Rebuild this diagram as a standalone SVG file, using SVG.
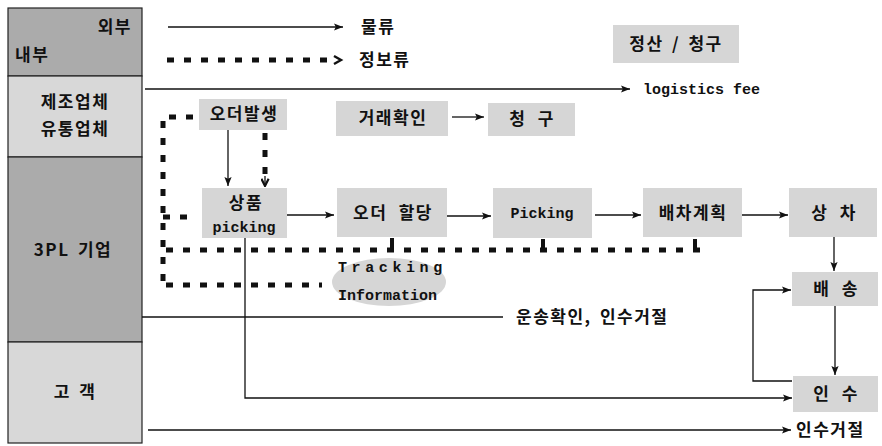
<svg xmlns="http://www.w3.org/2000/svg" width="882" height="446" viewBox="0 0 882 446">
<style>
.ko{font-family:"Noto Sans CJK KR","Noto Sans",sans-serif;font-weight:bold;font-size:17px;fill:#111;letter-spacing:1.5px;word-spacing:6px}
.en{font-family:"Liberation Mono",monospace;font-weight:bold;font-size:15px;fill:#111}
.dark{fill:#ababab;stroke:#222;stroke-width:1.2}
.light{fill:#d8d8d8;stroke:#222;stroke-width:1.2}
.box{fill:#d6d6d6}
.ln{fill:none;stroke:#111;stroke-width:1.3}
.dash{fill:none;stroke:#111;stroke-width:5;stroke-dasharray:7 10}
.tick{fill:none;stroke:#111;stroke-width:4}
</style>
<defs>
<marker id="ah" viewBox="0 0 10 10" refX="10" refY="5" markerWidth="9" markerHeight="9" markerUnits="userSpaceOnUse" orient="auto">
<path d="M0,1 L10,5 L0,9 L2,5 Z" fill="#111"/>
</marker>
<marker id="chev" viewBox="0 0 10 10" refX="9" refY="5" markerWidth="9" markerHeight="9" markerUnits="userSpaceOnUse" orient="auto">
<path d="M1,1 L9,5 L1,9" fill="none" stroke="#111" stroke-width="2.4"/>
</marker>
</defs>

<g id="lane-top">
<rect class="dark" x="8" y="8" width="134" height="68"/>
<text class="ko" x="132" y="33" text-anchor="end">외부</text>
<text class="ko" x="15" y="61">내부</text>
</g>
<g id="lane-maker">
<rect class="light" x="8" y="76" width="134" height="81"/>
<text class="ko" x="75" y="108" text-anchor="middle">제조업체</text>
<text class="ko" x="75" y="135" text-anchor="middle">유통업체</text>
</g>
<g id="lane-3pl">
<rect class="dark" x="8" y="157" width="134" height="185"/>
<text class="ko" x="73" y="256" text-anchor="middle" style="word-spacing:3px">3PL 기업</text>
</g>
<g id="lane-customer">
<rect class="light" x="8" y="342" width="134" height="101"/>
<text class="ko" x="75" y="398" text-anchor="middle" style="word-spacing:3px">고 객</text>
</g>

<g id="legend">
<text class="ko" x="361" y="33">물류</text>
<text class="ko" x="359" y="66">정보류</text>
</g>

<g id="n-settle">
<rect class="box" x="613" y="25" width="126" height="38"/>
<text class="ko" x="676" y="50" text-anchor="middle" style="word-spacing:3px">정산 / 청구</text>
</g>
<g id="n-trade">
<rect class="box" x="336" y="101" width="112" height="35"/>
<text class="ko" x="393" y="124" text-anchor="middle">거래확인</text>
</g>
<g id="n-bill">
<rect class="box" x="488" y="103" width="87" height="33"/>
<text class="ko" x="532" y="125" text-anchor="middle">청 구</text>
</g>
<g id="n-order">
<rect class="box" x="199" y="99" width="88" height="31"/>
<text class="ko" x="244" y="120" text-anchor="middle">오더발생</text>
</g>
<g id="n-goods">
<rect class="box" x="202" y="188" width="85" height="50"/>
<text class="ko" x="246" y="209" text-anchor="middle">상품</text>
<text class="en" x="244" y="232" text-anchor="middle">picking</text>
</g>
<g id="n-alloc">
<rect class="box" x="337" y="188" width="110" height="49"/>
<text class="ko" x="393" y="219" text-anchor="middle">오더 할당</text>
</g>
<g id="n-picking">
<rect class="box" x="493" y="188" width="99" height="50"/>
<text class="en" x="542" y="218" text-anchor="middle">Picking</text>
</g>
<g id="n-dispatch">
<rect class="box" x="643" y="188" width="99" height="49"/>
<text class="ko" x="693" y="219" text-anchor="middle">배차계획</text>
</g>
<g id="n-load">
<rect class="box" x="789" y="188" width="88" height="49"/>
<text class="ko" x="834" y="219" text-anchor="middle">상 차</text>
</g>
<g id="n-deliver">
<rect class="box" x="792" y="272" width="86" height="34"/>
<text class="ko" x="836" y="295" text-anchor="middle">배 송</text>
</g>
<g id="n-receive">
<rect class="box" x="793" y="376" width="85" height="36"/>
<text class="ko" x="836" y="400" text-anchor="middle">인 수</text>
</g>
<g id="n-tracking">
<ellipse cx="389" cy="282" rx="57" ry="24" fill="#d6d6d6"/>
<text class="en" x="338" y="272" style="letter-spacing:4.6px">Tracking</text>
<text class="en" x="338" y="300">Information</text>
</g>

<g id="labels">
<text class="en" x="643" y="94">logistics fee</text>
<text class="ko" x="516" y="323" style="word-spacing:3px">운송확인, 인수거절</text>
<text class="ko" x="796" y="436">인수거절</text>
</g>

<g id="connectors">
<path class="ln" d="M168 27 H343" marker-end="url(#ah)"/>
<path class="dash" d="M167 60 H330"/>
<path d="M334 56 L341 60 L334 64" fill="none" stroke="#111" stroke-width="2.4"/>
<path class="ln" d="M145 89 H630" marker-end="url(#ah)"/>
<path class="ln" d="M452 117 H484" marker-end="url(#ah)"/>
<path class="ln" d="M228 130 V186" marker-end="url(#ah)"/>
<path class="dash" d="M265 133 V176"/>
<path class="ln" d="M265 176 V186" marker-end="url(#chev)"/>
<path class="dash" d="M193 117 H163 V288"/>
<path class="dash" d="M163 217 H196"/>
<path class="dash" d="M166 250 H700"/>
<path class="dash" d="M166 285 H322"/>
<path class="tick" d="M392 238 V252"/>
<path class="tick" d="M543 239 V252"/>
<path class="tick" d="M695 239 V252"/>
<path class="ln" d="M287 215 H334" marker-end="url(#ah)"/>
<path class="ln" d="M447 216 H491" marker-end="url(#ah)"/>
<path class="ln" d="M595 215 H641" marker-end="url(#ah)"/>
<path class="ln" d="M742 215 H788" marker-end="url(#ah)"/>
<path class="ln" d="M834 237 V271" marker-end="url(#ah)"/>
<path class="ln" d="M835 306 V375" marker-end="url(#ah)"/>
<path class="ln" d="M792 381 H753 V290 H791" marker-end="url(#ah)"/>
<path class="ln" d="M142 317 H503"/>
<path class="ln" d="M245 238 V398 H792" marker-end="url(#ah)"/>
<path class="ln" d="M148 430 H791" marker-end="url(#ah)"/>
</g>
</svg>
